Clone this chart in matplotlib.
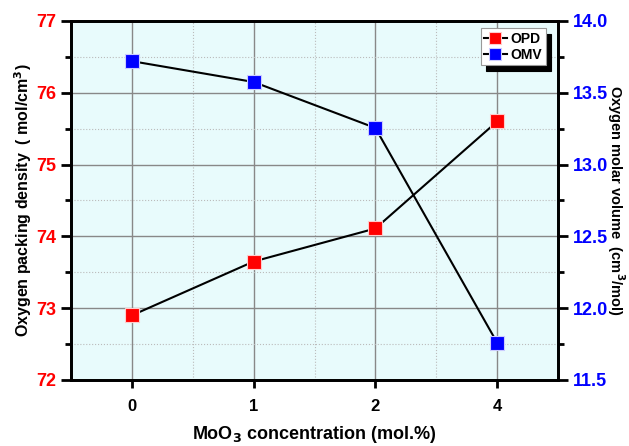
import matplotlib; matplotlib.use("Agg")
import matplotlib.pyplot as plt
from matplotlib.ticker import MultipleLocator, FormatStrFormatter
import numpy as np

conc = ["0", "1", "2", "4"]
opd = [72.9, 73.65, 74.11, 75.6]
omv = [13.72, 13.575, 13.255, 11.76]

plt.rcParams["font.family"] = ["Liberation Sans", "DejaVu Sans"]
plt.rcParams["font.weight"] = "bold"

fig = plt.figure(figsize=(6.29, 4.46), dpi=100)
ax = fig.add_axes([0.1129, 0.148, 0.7742, 0.805])
ax2 = ax.twinx()
x = np.arange(len(conc))

ax.set_facecolor("#e8fbfc")
ax.set_xlim(-0.5, 3.5)
ax.set_ylim(72, 77)
ax2.set_ylim(11.5, 14.0)

# grids: solid at majors, dotted at minors
ax.set_xticks(x)
ax.set_xticklabels(conc)
ax.xaxis.set_minor_locator(MultipleLocator(0.5))
ax.yaxis.set_major_locator(MultipleLocator(1))
ax.yaxis.set_minor_locator(MultipleLocator(0.5))
ax.grid(True, which="major", color="#888888", lw=1.0)
ax.grid(True, which="minor", color="#bbbbbb", lw=0.8, ls=":")
ax.set_axisbelow(True)
ax.tick_params(axis="x", which="minor", length=0)
ax.tick_params(axis="x", which="major", direction="out", length=6, width=2, labelsize=12, pad=8)
ax.tick_params(axis="y", which="major", direction="out", length=7, width=2, labelsize=13, labelcolor="red")
ax.tick_params(axis="y", which="minor", direction="out", length=4, width=2)

ax2.yaxis.set_major_locator(MultipleLocator(0.5))
ax2.yaxis.set_minor_locator(MultipleLocator(0.25))
ax2.yaxis.set_major_formatter(FormatStrFormatter("%.1f"))
ax2.tick_params(axis="y", which="major", direction="out", length=7, width=2, labelsize=13, labelcolor="blue")
ax2.tick_params(axis="y", which="minor", direction="out", length=4, width=2)

for a in (ax, ax2):
    for s in a.spines.values():
        s.set_linewidth(2)

l1, = ax.plot(x, opd, "s-", color="black", lw=1.5, ms=10, mfc="red", mec="#ffcccc", mew=0.8,
              label="OPD", zorder=3)
l2, = ax2.plot(x, omv, "s-", color="black", lw=1.5, ms=10, mfc="blue", mec="#ccccff", mew=0.8,
               label="OMV", zorder=3)

ax.set_xlabel("MoO$_3$ concentration (mol.%)", fontsize=13, fontweight="bold", labelpad=7)
ax.set_ylabel("Oxygen packing density  ( mol/cm$^3$)", fontsize=11.5, fontweight="bold", labelpad=2)
ax2.set_ylabel("Oxygen molar volume  (cm$^3$/mol)", fontsize=10.5, fontweight="bold", rotation=270,
               va="center", ha="center")
ax2.yaxis.set_label_coords(1.118, 0.5)

leg = ax2.legend([l1, l2], ["OPD", "OMV"], loc="upper right", bbox_to_anchor=(0.975, 0.98),
                 borderaxespad=0, fancybox=False, edgecolor="#999999", framealpha=1, fontsize=10,
                 handlelength=1.6, handletextpad=0.3, borderpad=0.25, labelspacing=0.15,
                 markerscale=0.8, shadow={"ox": 4, "oy": -4, "facecolor": "black", "edgecolor": "black", "alpha": 1})
leg.get_frame().set_linewidth(0.8)

fig.savefig("out.png", dpi=100)
